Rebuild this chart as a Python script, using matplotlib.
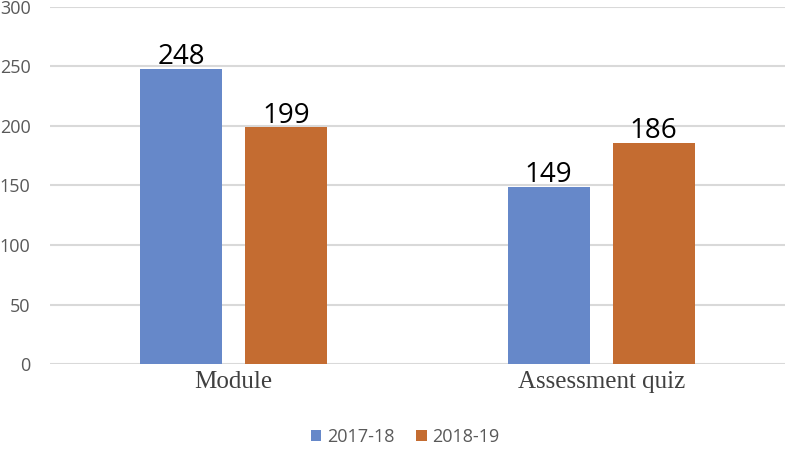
import numpy as np
import matplotlib.pyplot as plt

categories = ['Module', 'Assessment quiz']
series_names = ['2017-18', '2018-19']
values_1718 = [248, 149]
values_1819 = [199, 186]

colors = ['#6688C9', '#C46C31']

fig = plt.figure(figsize=(7.87, 4.53), dpi=100)
ax = fig.add_axes([50 / 787, 89 / 453, 735 / 787, 357 / 453])

x = np.arange(len(categories))
width = 0.223
offset = 0.143

bars1 = ax.bar(x - offset, values_1718, width, color=colors[0], label=series_names[0], zorder=3)
bars2 = ax.bar(x + offset, values_1819, width, color=colors[1], label=series_names[1], zorder=3)

# value labels above bars
for bars in (bars1, bars2):
    for b in bars:
        ax.text(b.get_x() + b.get_width() / 2, b.get_height() - 2, str(int(b.get_height())),
                ha='center', va='bottom', fontsize=20, family='Open Sans', color='black', zorder=4)

ax.set_xlim(-0.5, 1.5)
ax.set_ylim(0, 300)
ax.set_yticks(np.arange(0, 301, 50))
ax.yaxis.grid(True, color='#d9d9d9', linewidth=1.5, zorder=0)
ax.set_axisbelow(True)

for s in ax.spines.values():
    s.set_visible(False)
ax.tick_params(axis='both', length=0)
ax.tick_params(axis='y', labelsize=13, labelcolor='#595959', pad=14)
for t in ax.get_yticklabels():
    t.set_family('Open Sans')
ax.set_xticks(x)
ax.set_xticklabels(categories, family='Liberation Serif', fontsize=18, color='#404040')
ax.tick_params(axis='x', pad=5)

fig.legend(loc='center', bbox_to_anchor=(405 / 787, 1 - 437 / 453), ncol=2, frameon=False,
           prop={'family': 'Open Sans', 'size': 13}, handlelength=0.6, handleheight=0.6,
           handletextpad=0.3, columnspacing=1.2, labelcolor='#595959')

fig.savefig('out.png', dpi=100)
